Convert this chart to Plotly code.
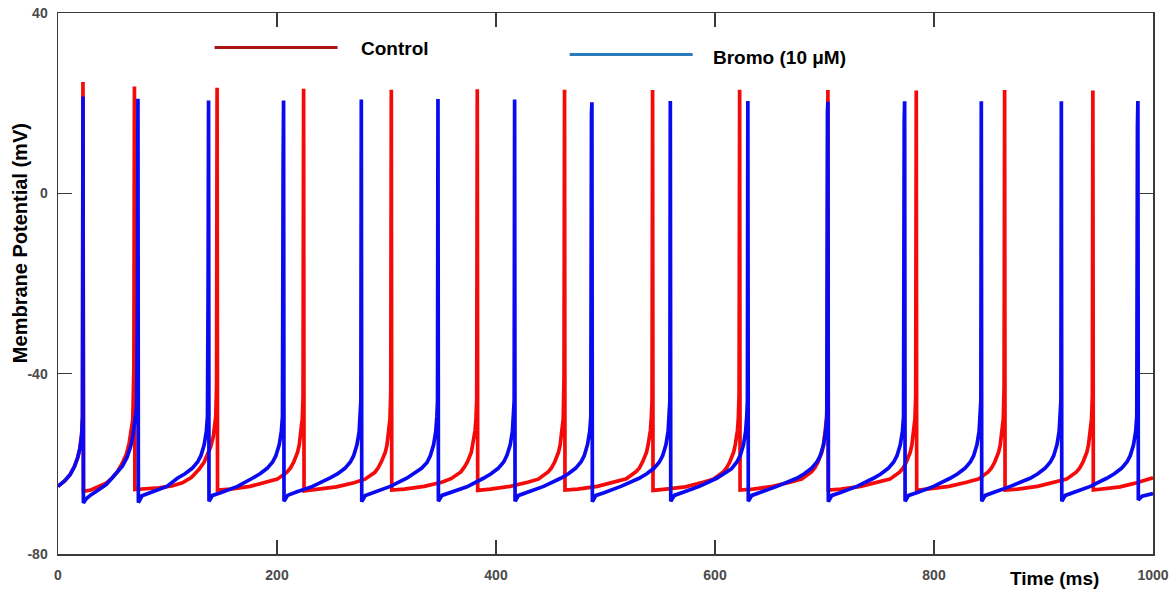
import plotly.graph_objects as go

# ---------------- data ----------------
# Control trace: time (ms) and membrane potential (mV)
control_t = [
    0, 6, 11, 15, 18, 20, 21.6, 22.4, 22.8, 23.0,
    23.3, 30, 37.5, 44, 49.6, 54.5, 58.8, 62.5, 65, 67, 68.3, 69.3, 69.8,
    70.2, 80, 92.3, 104, 113.6, 122, 128.8, 133.5, 136.5, 139.5, 141.8, 143.3, 144.1, 144.8, 145.3,
    145.7, 157.3, 175.3, 191.3, 200.3, 209.3, 212.3, 215.3, 218.8, 220.3, 221.3, 222.3, 223.1, 223.8, 224.3,
    224.7, 236.3, 254.3, 270.3, 280.4, 289.4, 292.4, 295.4, 298.9, 300.4, 301.4, 302.4, 303.2, 303.9, 304.4,
    304.8, 316.4, 334.4, 350.4, 358.9, 367.9, 370.9, 373.9, 377.4, 378.9, 379.9, 380.9, 381.7, 382.4, 382.9,
    383.3, 394.9, 412.9, 428.9, 438.6, 447.6, 450.6, 453.6, 457.1, 458.6, 459.6, 460.6, 461.4, 462.1, 462.6,
    463.0, 474.6, 492.6, 508.6, 519.0, 528.0, 531.0, 534.0, 537.5, 539.0, 540.0, 541.0, 541.8, 542.5, 543.0,
    543.4, 555.0, 573.0, 589.0, 598.5, 607.5, 610.5, 613.5, 617.0, 618.5, 619.5, 620.5, 621.3, 622.0, 622.5,
    622.9, 634.5, 652.5, 668.5, 679.1, 688.1, 691.1, 694.1, 697.6, 699.1, 700.1, 701.1, 701.9, 702.6, 703.1,
    703.5, 715.1, 733.1, 749.1, 759.8, 768.8, 771.8, 774.8, 778.3, 779.8, 780.8, 781.8, 782.6, 783.3, 783.8,
    784.2, 795.8, 813.8, 829.8, 840.5, 849.5, 852.5, 855.5, 859.0, 860.5, 861.5, 862.5, 863.3, 864.0, 864.5,
    864.9, 876.5, 894.5, 910.5, 921.1, 930.1, 933.1, 936.1, 939.6, 941.1, 942.1, 943.1, 943.9, 944.6, 945.1,
    945.5, 957.0, 970.0, 982.0, 991.0, 1000.0,
]
control_v = [
    -65.0, -63.8, -62.4, -60.6, -58.6, -56.6, -53.6, -49.5, 24.7, -29.0,
    -66.1, -65.8, -65.1, -64.3, -63.1, -61.7, -59.8, -57.8, -55.4, -52.8, -50.2, -38.7, 23.7,
    -65.7, -65.6, -65.3, -64.9, -64.2, -63.0, -61.2, -59.6, -58.0, -56.2, -54.0, -51.5, -49.5, -42.8, 23.4,
    -65.8, -65.6, -65.0, -64.1, -63.4, -61.8, -60.9, -59.6, -57.4, -55.8, -54.2, -52.6, -50.0, -45.0, 23.2,
    -66.0, -65.7, -65.1, -64.2, -63.4, -61.9, -60.9, -59.5, -57.4, -55.9, -54.2, -52.5, -50.0, -44.0, 23.0,
    -65.8, -65.6, -65.0, -64.1, -63.3, -61.8, -60.8, -59.6, -57.5, -55.8, -54.1, -52.6, -50.1, -45.5, 23.1,
    -65.9, -65.6, -65.0, -64.1, -63.4, -61.8, -60.9, -59.6, -57.4, -55.8, -54.2, -52.6, -50.0, -41.0, 23.0,
    -65.8, -65.6, -65.0, -64.0, -63.3, -61.7, -60.9, -59.5, -57.4, -55.7, -54.2, -52.6, -50.0, -46.0, 22.9,
    -65.9, -65.6, -65.1, -64.1, -63.4, -61.8, -60.9, -59.6, -57.4, -55.8, -54.3, -52.6, -50.0, -44.5, 23.0,
    -65.8, -65.6, -65.0, -64.1, -63.4, -61.8, -60.9, -59.6, -57.4, -55.8, -54.2, -52.6, -50.0, -45.0, 22.9,
    -65.8, -65.6, -65.0, -64.1, -63.4, -61.8, -60.9, -59.6, -57.4, -55.8, -54.2, -52.6, -50.0, -45.0, 22.8,
    -65.9, -65.6, -65.0, -64.1, -63.4, -61.8, -60.9, -59.6, -57.4, -55.8, -54.2, -52.6, -50.0, -43.0, 22.9,
    -65.8, -65.6, -65.0, -64.1, -63.4, -61.8, -60.9, -59.6, -57.4, -55.8, -54.2, -52.6, -50.0, -45.0, 22.8,
    -65.8, -65.5, -65.1, -64.4, -63.8, -63.1,
]

# Bromo (10 uM) trace: time (ms) and membrane potential (mV)
bromo_t = [
    0, 6, 11, 15, 18, 20, 21.6, 22.4, 22.8,
    23.2, 26, 30, 37.5, 44, 49.6, 55, 58.8, 63, 66.4, 68.5, 70.3, 71.8, 72.6, 73.0,
    73.4, 76.7, 84.0, 99.5, 109.0, 116.0, 122.5, 127.5, 130.5, 133.5, 135.5, 136.5, 137.1, 137.5,
    137.9, 141.2, 148.5, 164.0, 177.5, 184.5, 191.0, 196.0, 199.0, 202.0, 204.0, 205.0, 205.6, 206.0,
    206.4, 209.7, 217.0, 232.5, 248.5, 255.5, 262.0, 267.0, 270.0, 273.0, 275.0, 276.0, 276.6, 277.0,
    277.4, 280.7, 288.0, 303.5, 318.5, 325.5, 332.0, 337.0, 340.0, 343.0, 345.0, 346.0, 346.6, 347.0,
    347.4, 350.7, 358.0, 373.5, 388.5, 395.5, 402.0, 407.0, 410.0, 413.0, 415.0, 416.0, 416.6, 417.0,
    417.4, 420.7, 428.0, 443.5, 459.1, 466.1, 472.6, 477.6, 480.6, 483.6, 485.6, 486.6, 487.2, 487.6,
    488.0, 491.3, 498.6, 514.1, 530.7, 537.7, 544.2, 549.2, 552.2, 555.2, 557.2, 558.2, 558.8, 559.2,
    559.6, 562.9, 570.2, 585.7, 601.5, 608.5, 615.0, 620.0, 623.0, 626.0, 628.0, 629.0, 629.6, 630.0,
    630.4, 633.7, 641.0, 656.5, 674.6, 681.6, 688.1, 693.1, 696.1, 699.1, 701.1, 702.1, 702.7, 703.1,
    703.5, 706.8, 714.1, 729.6, 744.7, 751.7, 758.2, 763.2, 766.2, 769.2, 771.2, 772.2, 772.8, 773.2,
    773.6, 776.9, 784.2, 799.7, 814.7, 821.7, 828.2, 833.2, 836.2, 839.2, 841.2, 842.2, 842.8, 843.2,
    843.6, 846.9, 854.2, 869.7, 887.8, 894.8, 901.3, 906.3, 909.3, 912.3, 914.3, 915.3, 915.9, 916.3,
    916.7, 920.0, 927.3, 942.8, 957.7, 964.7, 971.2, 976.2, 979.2, 982.2, 984.2, 985.2, 985.8, 986.2,
    986.6, 990.0, 1000.0,
]
bromo_v = [
    -65.0, -63.8, -62.4, -60.6, -58.6, -56.6, -53.6, -49.5, 21.5,
    -68.7, -67.7, -66.9, -65.7, -64.6, -63.1, -61.6, -60.5, -58.6, -56.1, -53.6, -50.9, -47.5, -24.0, 21.0,
    -68.6, -67.1, -66.4, -65.0, -63.2, -62.2, -61.0, -59.6, -58.2, -55.8, -52.8, -49.5, -20.3, 20.6,
    -68.3, -67.0, -66.4, -65.0, -63.2, -62.2, -61.0, -59.6, -58.2, -55.8, -52.8, -49.5, 5.9, 20.6,
    -68.3, -67.0, -66.3, -65.0, -63.1, -62.2, -61.0, -59.6, -58.2, -55.8, -52.9, -49.5, -46.0, 20.8,
    -68.4, -67.0, -66.4, -65.0, -63.2, -62.1, -61.0, -59.7, -58.2, -55.8, -52.8, -49.6, -46.0, 20.9,
    -68.3, -67.0, -66.4, -65.1, -63.2, -62.2, -61.0, -59.6, -58.1, -55.8, -52.8, -49.5, -46.0, 20.8,
    -68.3, -67.0, -66.4, -65.0, -63.2, -62.2, -61.0, -59.6, -58.2, -55.7, -52.8, -49.5, 17.5, 20.2,
    -68.4, -67.0, -66.4, -65.0, -63.2, -62.2, -61.0, -59.6, -58.2, -55.8, -52.8, -49.5, -46.0, 20.5,
    -68.3, -67.0, -66.4, -65.0, -63.2, -62.2, -61.1, -59.6, -58.2, -55.8, -52.8, -49.5, -46.0, 20.5,
    -68.3, -67.0, -66.4, -65.0, -63.2, -62.2, -61.0, -59.6, -58.2, -55.8, -52.8, -49.5, 18.0, 20.3,
    -68.4, -67.0, -66.4, -65.0, -63.2, -62.2, -61.0, -59.6, -58.2, -55.8, -52.8, -49.5, 16.0, 20.4,
    -68.3, -67.0, -66.4, -65.0, -63.2, -62.2, -61.0, -59.6, -58.2, -55.8, -52.8, -49.5, -46.0, 20.4,
    -68.3, -67.0, -66.4, -65.0, -63.2, -62.2, -61.0, -59.6, -58.2, -55.8, -52.8, -49.5, -46.0, 20.4,
    -68.3, -67.0, -66.4, -65.0, -63.2, -62.2, -61.0, -59.6, -58.2, -55.8, -52.8, -49.5, 15.0, 20.5,
    -68.0, -67.2, -66.6,
]

x_ticks = [0, 200, 400, 600, 800, 1000]
y_ticks = [-80, -40, 0, 40]
series_names = ["Control", "Bromo (10 μM)"]
x_title = "Time (ms)"
y_title = "Membrane Potential (mV)"

assert len(control_t) == len(control_v)
assert len(bromo_t) == len(bromo_v)

# ---------------- figure ----------------
FONT = "Liberation Sans, Arial, sans-serif"
AXIS_COLOR = "#3a3a3a"

fig = go.Figure()
fig.add_trace(go.Scatter(x=control_t, y=control_v, mode="lines", name=series_names[0],
                         line=dict(color="#f50a0a", width=3.7)))
fig.add_trace(go.Scatter(x=bromo_t, y=bromo_v, mode="lines", name=series_names[1],
                         line=dict(color="#0a0af0", width=3.7)))

axis_common = dict(
    showgrid=False, zeroline=False, showline=True, linecolor=AXIS_COLOR, linewidth=1.5,
    mirror="ticks", ticks="inside", ticklen=14, tickwidth=1.5, tickcolor=AXIS_COLOR,
    automargin=False,
    tickfont=dict(family=FONT, size=14, color="#4a4a4a", weight="bold"),
)
fig.update_xaxes(range=[0, 1000], tickvals=x_ticks, ticktext=[str(v) for v in x_ticks],
                 ticklabelstandoff=8, **axis_common)
fig.update_yaxes(range=[-80, 40], tickvals=y_ticks, ticktext=[str(v) for v in y_ticks],
                 ticklabelstandoff=6, **axis_common)

# legend drawn as in the reference (line samples + bold labels)
fig.add_shape(type="line", xref="paper", yref="paper", x0=0.143, x1=0.2553, y0=0.9363, y1=0.9363,
              line=dict(color="#aa1414", width=3))
fig.add_shape(type="line", xref="paper", yref="paper", x0=0.4673, x1=0.5796, y0=0.9234, y1=0.9234,
              line=dict(color="#2a7bbd", width=3))
fig.add_annotation(text=series_names[0], xref="paper", yref="paper", x=0.2745, y=0.9345,
                   xanchor="left", yanchor="middle", showarrow=False,
                   font=dict(family=FONT, size=19, color="black", weight="bold"))
fig.add_annotation(text=series_names[1], xref="paper", yref="paper", x=0.596, y=0.918,
                   xanchor="left", yanchor="middle", showarrow=False,
                   font=dict(family=FONT, size=19, color="black", weight="bold"))

# axis titles positioned like the reference
fig.add_annotation(text=x_title, xref="paper", yref="paper", x=0.9099, y=-0.0452,
                   xanchor="center", yanchor="middle", showarrow=False,
                   font=dict(family=FONT, size=19, color="black", weight="bold"))
fig.add_annotation(text=y_title, xref="paper", yref="paper", x=-0.0351, y=0.5738,
                   xanchor="center", yanchor="middle", textangle=-90, showarrow=False,
                   font=dict(family=FONT, size=20, color="black", weight="bold"))

fig.update_layout(
    template="none",
    width=1173, height=592, autosize=False,
    margin=dict(l=58.4, r=19.7, t=12.5, b=37.5, pad=0),
    paper_bgcolor="white", plot_bgcolor="white",
    showlegend=False,
    hovermode=False,
    font=dict(family=FONT),
)

fig.write_html(
    "out.html",
    config={"displayModeBar": False, "staticPlot": True},
    post_script="document.documentElement.style.margin='0';document.body.style.margin='0';"
                "document.body.style.overflow='hidden';",
)
